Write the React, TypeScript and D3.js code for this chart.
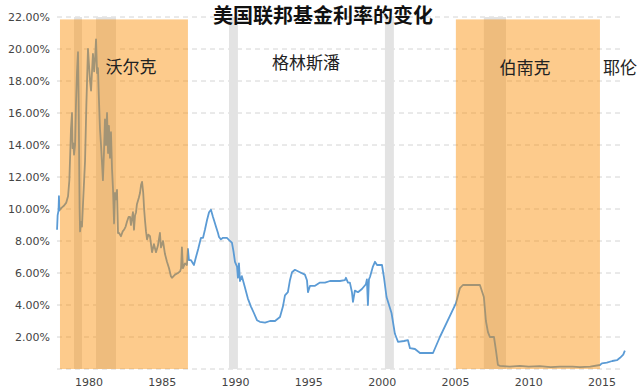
import React, { useEffect, useRef } from "react";
import * as d3 from "d3";

// federal funds rate, [year, percent]
const rates: [number, number][] = [
  [1977.82, 8.7], [1977.86, 9.6], [1977.92, 9.9], [1977.95, 10.8], [1977.98, 9.9],
  [1978.05, 10.0], [1978.16, 10.1], [1978.29, 10.2], [1978.45, 10.4], [1978.57, 10.8],
  [1978.66, 11.8], [1978.72, 13.5], [1978.77, 15.0], [1978.84, 16.0], [1978.88, 13.8],
  [1978.93, 14.1], [1978.98, 13.4], [1979.05, 14.0], [1979.11, 16.5], [1979.18, 18.5],
  [1979.25, 19.8], [1979.29, 17.0], [1979.32, 14.0], [1979.36, 10.0], [1979.39, 8.6],
  [1979.45, 9.2], [1979.52, 8.9], [1979.6, 10.5], [1979.73, 13.0], [1979.82, 16.5],
  [1979.93, 20.0], [1980.0, 19.0], [1980.07, 18.0], [1980.14, 17.4], [1980.2, 18.5],
  [1980.27, 19.7], [1980.35, 18.6], [1980.42, 19.5], [1980.48, 20.6], [1980.55, 18.5],
  [1980.61, 18.8], [1980.68, 16.8], [1980.75, 15.0], [1980.82, 14.0], [1980.95, 11.8],
  [1981.02, 13.5], [1981.09, 15.6], [1981.16, 14.0], [1981.23, 16.0], [1981.3, 13.5],
  [1981.36, 15.2], [1981.43, 13.2], [1981.5, 14.8], [1981.57, 12.5], [1981.64, 11.2],
  [1981.71, 9.1], [1981.77, 11.0], [1981.84, 10.6], [1981.91, 11.2], [1981.98, 8.5],
  [1982.05, 8.5], [1982.18, 8.3], [1982.3, 8.6], [1982.39, 8.7], [1982.5, 8.9],
  [1982.59, 9.2], [1982.7, 9.5], [1982.8, 9.5], [1982.86, 9.0], [1983.0, 9.8],
  [1983.07, 8.7], [1983.14, 9.6], [1983.21, 9.8], [1983.27, 10.3], [1983.4, 10.7],
  [1983.48, 11.0], [1983.55, 11.5], [1983.62, 11.7], [1983.7, 11.0], [1983.76, 10.0],
  [1983.82, 9.3], [1983.89, 8.6], [1983.96, 8.1], [1984.05, 8.4], [1984.16, 8.3],
  [1984.23, 7.8], [1984.3, 7.3], [1984.43, 7.8], [1984.57, 7.3], [1984.7, 7.7],
  [1984.84, 8.5], [1984.91, 7.6], [1985.05, 8.0], [1985.18, 7.2], [1985.32, 6.7],
  [1985.46, 6.3], [1985.59, 5.8], [1985.66, 5.7], [1985.87, 5.9], [1986.07, 6.0],
  [1986.21, 6.1], [1986.28, 6.3], [1986.34, 7.6], [1986.41, 6.3], [1986.55, 6.6],
  [1986.68, 6.5], [1986.75, 7.5], [1986.82, 6.8], [1986.96, 6.8], [1987.16, 6.5],
  [1987.3, 7.0], [1987.45, 7.5], [1987.64, 8.2], [1987.78, 8.2], [1987.91, 8.7],
  [1988.05, 9.3], [1988.19, 9.8], [1988.32, 9.95], [1988.46, 9.5], [1988.53, 9.3],
  [1988.66, 8.9], [1988.8, 8.5], [1988.87, 8.25], [1989.0, 8.1], [1989.14, 8.2],
  [1989.41, 8.2], [1989.62, 8.0], [1989.75, 7.9], [1989.85, 7.4], [1989.96, 6.7],
  [1990.1, 6.4], [1990.16, 5.7], [1990.23, 6.6], [1990.3, 5.5], [1990.43, 5.8],
  [1990.64, 5.1], [1990.84, 4.4], [1991.05, 3.9], [1991.25, 3.5], [1991.46, 3.05],
  [1991.66, 2.95], [1992.01, 2.9], [1992.35, 3.0], [1992.69, 3.0], [1993.03, 3.25],
  [1993.23, 3.9], [1993.37, 4.6], [1993.57, 4.8], [1993.71, 5.55], [1993.85, 6.05],
  [1994.05, 6.2], [1994.39, 6.05], [1994.73, 5.9], [1994.87, 5.55], [1994.94, 4.8],
  [1995.08, 5.2], [1995.42, 5.2], [1995.76, 5.4], [1996.1, 5.4], [1996.44, 5.5],
  [1996.78, 5.5], [1997.12, 5.5], [1997.46, 5.55], [1997.53, 5.7], [1997.67, 5.4],
  [1997.8, 5.4], [1997.94, 4.8], [1998.01, 4.2], [1998.14, 4.9], [1998.35, 4.8],
  [1998.62, 5.0], [1998.89, 5.3], [1998.96, 5.6], [1999.03, 4.0], [1999.1, 5.6],
  [1999.17, 5.75], [1999.37, 6.4], [1999.51, 6.7], [1999.65, 6.5], [1999.85, 6.5],
  [1999.99, 6.5], [2000.12, 5.75], [2000.3, 4.5], [2000.64, 3.5], [2000.87, 2.2],
  [2001.08, 1.7], [2001.49, 1.75], [2001.76, 1.8], [2001.9, 1.3], [2002.24, 1.25],
  [2002.58, 1.0], [2003.47, 1.0], [2003.94, 2.0], [2005.03, 4.1], [2005.31, 5.06],
  [2005.51, 5.25], [2006.0, 5.25], [2006.67, 5.25], [2006.94, 4.5], [2007.08, 3.0],
  [2007.22, 2.3], [2007.35, 2.0], [2007.63, 2.0], [2007.76, 1.2], [2007.9, 0.25],
  [2008.04, 0.2], [2008.7, 0.15], [2009.4, 0.2], [2010.0, 0.15], [2010.76, 0.18],
  [2011.5, 0.12], [2012.13, 0.15], [2013.0, 0.15], [2013.49, 0.12], [2014.2, 0.15],
  [2014.86, 0.25], [2014.99, 0.35], [2015.33, 0.4], [2015.7, 0.5], [2016.02, 0.55],
  [2016.23, 0.7], [2016.45, 0.9], [2016.56, 1.15],
];

// recession bands (grey)
const recessions: [number, number][] = [
  [1978.98, 1979.52],
  [1980.48, 1981.84],
  [1989.55, 1990.16],
  [2000.19, 2000.8],
  [2006.94, 2008.45],
];

// chair terms shown as orange bands
const chairBands: [number, number][] = [
  [1978.02, 1986.75],
  [2005.03, 2014.86],
];

const chairNames = ["沃尔克", "格林斯潘", "伯南克", "耶伦"];
const yTicks = [2, 4, 6, 8, 10, 12, 14, 16, 18, 20, 22];
const xTicks = [1980, 1985, 1990, 1995, 2000, 2005, 2010, 2015];
const title = "美国联邦基金利率的变化";

export default function App() {
  const ref = useRef<SVGSVGElement>(null);

  useEffect(() => {
    const svg = d3.select(ref.current);
    svg.selectAll("*").remove();

    const x = d3.scaleLinear().domain([1980, 2015]).range([89, 602]);
    const y = d3.scaleLinear().domain([0, 22]).range([369, 17]);
    const gridLeft = 57;
    const gridRight = 624;

    // grid
    svg
      .append("g")
      .selectAll("line")
      .data([0, ...yTicks])
      .enter()
      .append("line")
      .attr("x1", gridLeft)
      .attr("x2", gridRight)
      .attr("y1", (d) => y(d))
      .attr("y2", (d) => y(d))
      .attr("stroke", "#d4d4d4")
      .attr("stroke-width", 1)
      .attr("stroke-dasharray", "5,4");

    svg
      .append("g")
      .selectAll("rect")
      .data(recessions)
      .enter()
      .append("rect")
      .attr("x", (d) => x(d[0]))
      .attr("width", (d) => x(d[1]) - x(d[0]))
      .attr("y", y(22))
      .attr("height", y(0) - y(22))
      .attr("fill", "#e3e3e3");

    const line = d3
      .line<[number, number]>()
      .x((d) => x(d[0]))
      .y((d) => y(d[1]));
    svg
      .append("path")
      .datum(rates)
      .attr("d", line)
      .attr("fill", "none")
      .attr("stroke", "#5b9bd5")
      .attr("stroke-width", 1.8)
      .attr("stroke-linejoin", "round");

    svg
      .append("g")
      .selectAll("rect")
      .data(chairBands)
      .enter()
      .append("rect")
      .attr("x", (d) => x(d[0]))
      .attr("width", (d) => x(d[1]) - x(d[0]))
      .attr("y", y(21.85))
      .attr("height", y(0) - y(21.85))
      .attr("fill", "rgb(251,140,0)")
      .attr("fill-opacity", 0.45);

    // axis labels
    const font = "DejaVu Sans, Verdana, sans-serif";
    svg
      .append("g")
      .selectAll("text")
      .data(yTicks)
      .enter()
      .append("text")
      .attr("x", 50)
      .attr("y", (d) => y(d) + 4)
      .attr("text-anchor", "end")
      .attr("font-family", font)
      .attr("font-size", 11)
      .attr("fill", "#444")
      .text((d) => d3.format(".2f")(d) + "%");

    svg
      .append("g")
      .selectAll("text")
      .data(xTicks)
      .enter()
      .append("text")
      .attr("x", (d) => x(d))
      .attr("y", 386)
      .attr("text-anchor", "middle")
      .attr("font-family", font)
      .attr("font-size", 11)
      .attr("fill", "#444")
      .text((d) => d);

    const cjk = "Noto Sans CJK SC, sans-serif";
    const labelPos = [
      [131, 73, "middle"],
      [306, 69, "middle"],
      [525, 74, "middle"],
      [603, 74, "start"],
    ];
    svg
      .append("g")
      .selectAll("text")
      .data(chairNames)
      .enter()
      .append("text")
      .attr("x", (d, i) => labelPos[i][0])
      .attr("y", (d, i) => labelPos[i][1])
      .attr("text-anchor", (d, i) => labelPos[i][2] as string)
      .attr("font-family", cjk)
      .attr("font-size", 17)
      .attr("fill", "#222")
      .text((d) => d);

    svg
      .append("text")
      .text(title)
      .attr("x", 323)
      .attr("y", 23)
      .attr("text-anchor", "middle")
      .attr("font-family", cjk)
      .attr("font-weight", "bold")
      .attr("font-size", 20)
      .attr("fill", "#111");
  }, []);

  return (
    <div style={{ position: "absolute", left: 0, top: 0 }}>
      <svg ref={ref} width={640} height={389} style={{ display: "block", background: "#fff" }} />
    </div>
  );
}
